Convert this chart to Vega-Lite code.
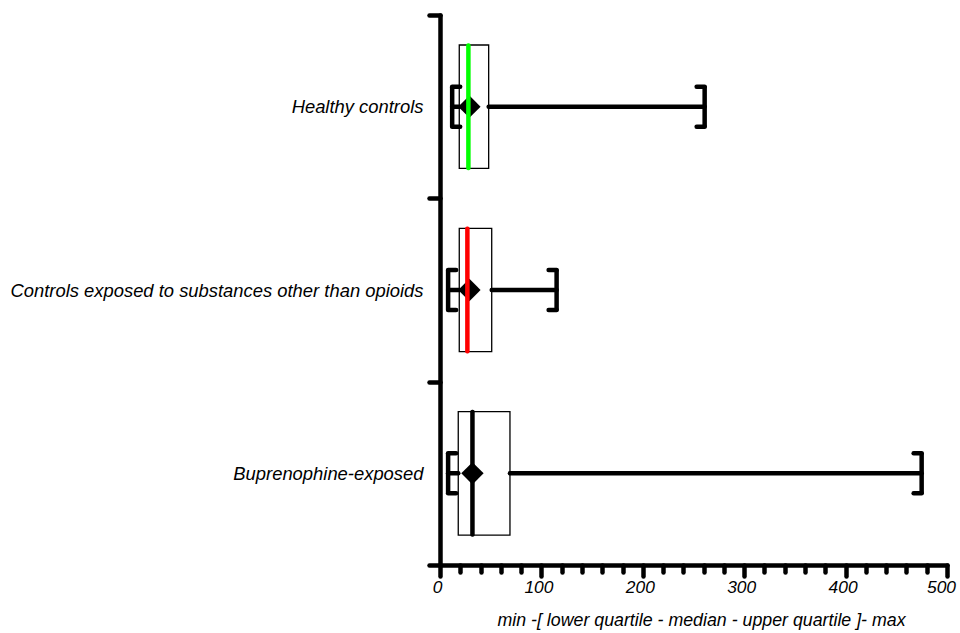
{
  "$schema": "https://vega.github.io/schema/vega-lite/v6.json",
  "width": 507,
  "height": 550,
  "autosize": {"type": "none"},
  "padding": {"left": 440, "top": 15, "right": 13, "bottom": 68},
  "background": "white",
  "config": {
    "view": {"stroke": null},
    "axis": {
      "grid": false,
      "domainColor": "black",
      "domainWidth": 4.5,
      "domainCap": "round",
      "tickColor": "black",
      "tickWidth": 4.5,
      "tickCap": "round",
      "labelFont": "Liberation Sans",
      "labelFontSize": 18.4,
      "labelFontStyle": "italic",
      "labelColor": "black",
      "titleFont": "Liberation Sans",
      "titleFontSize": 17.8,
      "titleFontStyle": "italic",
      "titleFontWeight": "normal",
      "titleColor": "black"
    },
    "axisX": {
      "labelOverlap": false,
      "labelFlush": false,
      "labelPadding": 2,
      "titlePadding": 16,
      "tickCount": 40,
      "titleX": 261
    }
  },
  "data": {
    "values": [
      {"group": "Healthy controls", "min": 12, "q1": 19, "median": 28, "q3": 48, "max": 261, "mean": 29},
      {"group": "Controls exposed to substances other than opioids", "min": 8, "q1": 19, "median": 27, "q3": 51, "max": 115, "mean": 29},
      {"group": "Buprenophine-exposed", "min": 8, "q1": 18, "median": 32, "q3": 69, "max": 475, "mean": 32}
    ]
  },
  "encoding": {
    "y": {
      "field": "group",
      "type": "nominal",
      "sort": ["Healthy controls", "Controls exposed to substances other than opioids", "Buprenophine-exposed"],
      "scale": {"paddingInner": 0, "paddingOuter": 0},
      "axis": {"title": null, "tickBand": "extent", "tickSize": 11, "labelPadding": 6, "labelLimit": 600}
    }
  },
  "layer": [
    {
      "mark": {"type": "bar", "height": {"band": 0.673}, "fill": "white", "stroke": "black", "strokeWidth": 1.3},
      "encoding": {
        "x": {
          "field": "q1", "type": "quantitative",
          "scale": {"domain": [0, 500], "nice": false, "zero": true},
          "title": "min -[ lower quartile - median - upper quartile ]- max",
          "axis": {
            "values": [0, 20, 40, 60, 80, 100, 120, 140, 160, 180, 200, 220, 240, 260, 280, 300, 320, 340, 360, 380, 400, 420, 440, 460, 480, 500],
            "labelExpr": "datum.value % 100 === 0 ? datum.label : ''",
            "tickSize": {"condition": {"test": "datum.value % 100 === 0", "value": 11}, "value": 7},
            "tickCount": 40,
            "labelOverlap": false,
            "labelFlush": false,
            "labelFontSize": 17.4,
            "labelOffset": {"condition": {"test": "datum.value === 500", "value": -6}, "value": -3}
          }
        },
        "x2": {"field": "q3"}
      }
    },
    {
      "mark": {"type": "rule", "strokeWidth": 4.5, "strokeCap": "round", "color": "black"},
      "encoding": {
        "x": {"field": "min", "type": "quantitative", "title": "min -[ lower quartile - median - upper quartile ]- max"},
        "x2": {"field": "q1"}
      }
    },
    {
      "mark": {"type": "rule", "strokeWidth": 4.5, "strokeCap": "round", "color": "black"},
      "encoding": {
        "x": {"field": "q3", "type": "quantitative", "title": "min -[ lower quartile - median - upper quartile ]- max"},
        "x2": {"field": "max"}
      }
    },
    {
      "mark": {"type": "point", "shape": "diamond", "filled": true, "size": 500, "color": "black", "opacity": 1, "strokeWidth": 0},
      "encoding": {
        "x": {"field": "mean", "type": "quantitative", "title": "min -[ lower quartile - median - upper quartile ]- max"}
      }
    },
    {
      "mark": {"type": "tick", "orient": "vertical", "size": 127, "thickness": 4.5, "cornerRadius": 2, "opacity": 1},
      "encoding": {
        "x": {"field": "median", "type": "quantitative", "title": "min -[ lower quartile - median - upper quartile ]- max"},
        "color": {
          "field": "group", "type": "nominal",
          "scale": {"domain": ["Healthy controls", "Controls exposed to substances other than opioids", "Buprenophine-exposed"], "range": ["#00ff00", "#ff0000", "#000000"]},
          "legend": null
        }
      }
    },
    {
      "mark": {"type": "tick", "orient": "vertical", "size": 43, "thickness": 4.5, "cornerRadius": 2, "color": "black", "opacity": 1},
      "encoding": {
        "x": {"field": "min", "type": "quantitative", "title": "min -[ lower quartile - median - upper quartile ]- max"}
      }
    },
    {
      "mark": {"type": "tick", "orient": "vertical", "size": 43, "thickness": 4.5, "cornerRadius": 2, "color": "black", "opacity": 1},
      "encoding": {
        "x": {"field": "max", "type": "quantitative", "title": "min -[ lower quartile - median - upper quartile ]- max"}
      }
    },
    {
      "mark": {"type": "rule", "strokeWidth": 4.5, "strokeCap": "round", "color": "black", "x2Offset": 8, "yOffset": -20},
      "encoding": {
        "x": {"field": "min", "type": "quantitative", "title": "min -[ lower quartile - median - upper quartile ]- max"},
        "x2": {"field": "min"}
      }
    },
    {
      "mark": {"type": "rule", "strokeWidth": 4.5, "strokeCap": "round", "color": "black", "x2Offset": 8, "yOffset": 20},
      "encoding": {
        "x": {"field": "min", "type": "quantitative", "title": "min -[ lower quartile - median - upper quartile ]- max"},
        "x2": {"field": "min"}
      }
    },
    {
      "mark": {"type": "rule", "strokeWidth": 4.5, "strokeCap": "round", "color": "black", "x2Offset": -8, "yOffset": -20},
      "encoding": {
        "x": {"field": "max", "type": "quantitative", "title": "min -[ lower quartile - median - upper quartile ]- max"},
        "x2": {"field": "max"}
      }
    },
    {
      "mark": {"type": "rule", "strokeWidth": 4.5, "strokeCap": "round", "color": "black", "x2Offset": -8, "yOffset": 20},
      "encoding": {
        "x": {"field": "max", "type": "quantitative", "title": "min -[ lower quartile - median - upper quartile ]- max"},
        "x2": {"field": "max"}
      }
    }
  ]
}
